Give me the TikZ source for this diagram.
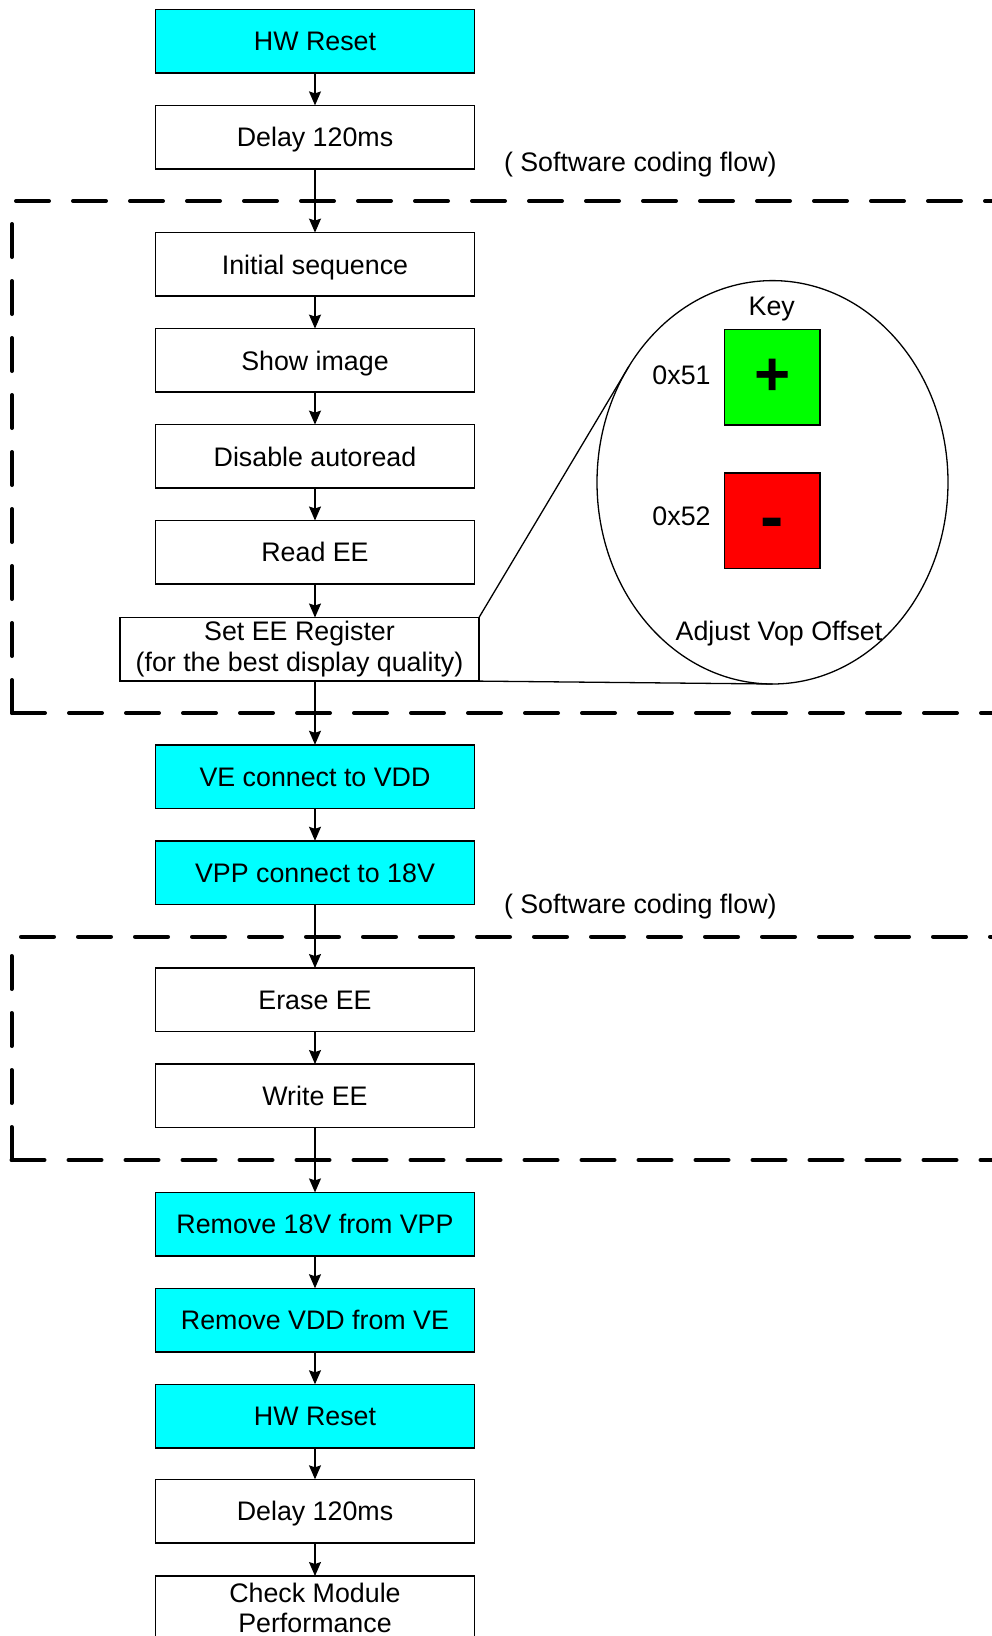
\documentclass[tikz,border=0pt]{standalone}
\usepackage{fontspec}
\setmainfont{Liberation Sans}
\usetikzlibrary{arrows.meta,shapes.geometric}
\definecolor{cyanbox}{RGB}{0,255,255}
\definecolor{keygreen}{RGB}{0,255,0}
\definecolor{keyred}{RGB}{255,0,0}
\begin{document}
\begin{tikzpicture}[x=1pt,y=-1pt,
  box/.style={draw=black, line width=1.5pt, minimum width=319.3pt, minimum height=63.6pt,
    inner sep=0pt, outer sep=0pt, font=\fontsize{26.8}{31}\selectfont,
    text height=19.2pt, text depth=0pt},
  hwbox/.style={box, fill=cyanbox},
  twoline/.style={draw=black, line width=1.5pt, minimum height=63.6pt,
    inner sep=0pt, outer sep=0pt, align=center},
  flow/.style={-{Stealth[length=14pt,width=12pt,inset=2pt]}, line width=1.3pt},
  region/.style={line width=4pt, dash pattern=on 33pt off 24pt, line cap=round},
  lbl/.style={font=\fontsize{26.8}{31}\selectfont, inner sep=0pt, outer sep=0pt},
  keysq/.style={draw=black, line width=1.3pt, minimum size=95.7pt, inner sep=0pt, outer sep=0pt},
  thinline/.style={line width=1.3pt}
]
\useasboundingbox (0,0) rectangle (991,1636);

% dashed regions
\draw[region] (16,201) -- (1000,201);
\draw[region] (12,713) -- (12,215);
\draw[region] (12,713) -- (1000,713);
\draw[region] (21,936.7) -- (1000,936.7);
\draw[region] (11.5,1160) -- (11.5,950);
\draw[region] (11.5,1160) -- (1000,1160);

% flow boxes
\node[hwbox] (hw1) at (315,41.2) {HW Reset};
\node[box] (d1) at (315,137.2) {Delay 120ms};
\node[box] (init) at (315,264.4) {Initial sequence};
\node[box] (show) at (315,360.4) {Show image};
\node[box] (dis) at (315,456.4) {Disable autoread};
\node[box] (read) at (315,552.3) {Read EE};
\node[twoline, minimum width=359pt, font=\fontsize{26.8}{31}\selectfont] (set) at (299.5,649.3)
  {Set EE Register\\(for the best display quality)};
\node[hwbox] (ve) at (315,776.6) {VE connect to VDD};
\node[hwbox] (vpp) at (315,872.6) {VPP connect to 18V};
\node[box] (erase) at (315,999.8) {Erase EE};
\node[box] (write) at (315,1095.8) {Write EE};
\node[hwbox] (rm18) at (315,1224.2) {Remove 18V from VPP};
\node[hwbox] (rmvdd) at (315,1320.1) {Remove VDD from VE};
\node[hwbox] (hw2) at (315,1416.1) {HW Reset};
\node[box] (d2) at (315,1511.1) {Delay 120ms};
\node[twoline, minimum width=319.3pt, font=\fontsize{26.8}{29.3}\selectfont] (chk) at (315,1607.8)
  {Check Module\\Performance};

% labels
\node[lbl, anchor=base west] (sw1) at (504,171.5) {( Software coding flow)};
\node[lbl, anchor=base west] (sw2) at (504,913.3) {( Software coding flow)};

% connectors
\draw[flow] (hw1) -- (d1);
\draw[flow] (d1) -- (init);
\draw[flow] (init) -- (show);
\draw[flow] (show) -- (dis);
\draw[flow] (dis) -- (read);
\draw[flow] (read.south) -- (read.south |- set.north);
\draw[flow] (ve.north |- set.south) -- (ve.north);
\draw[flow] (ve) -- (vpp);
\draw[flow] (vpp) -- (erase);
\draw[flow] (erase) -- (write);
\draw[flow] (write) -- (rm18);
\draw[flow] (rm18) -- (rmvdd);
\draw[flow] (rmvdd) -- (hw2);
\draw[flow] (hw2) -- (d2);
\draw[flow] (d2) -- (chk);

% key callout
\node[ellipse, draw=black, line width=1.3pt, minimum width=351pt, minimum height=403.4pt,
  inner sep=0pt, outer sep=0pt] (ell) at (772.5,482.3) {};
\draw[thinline] (set.north east) -- (ell.141.7);
\draw[thinline] (set.south east) -- (ell.south);

\node[keysq, fill=keygreen] (gk) at (772.2,377.2) {};
\node[keysq, fill=keyred] (rk) at (772.2,520.8) {};
\node[anchor=base, inner sep=0pt, font=\fontsize{62}{62}\selectfont\bfseries] (plus) at (772.2,395.6) {+};
\node[anchor=base, inner sep=0pt, font=\fontsize{70}{70}\selectfont\bfseries] (minus) at (772.2,540.5) {-};
\node[lbl, anchor=base] (key) at (771.8,315) {Key};
\node[lbl, anchor=base] (k51) at (681.5,384) {0x51};
\node[lbl, anchor=base] (k52) at (681.5,525) {0x52};
\node[lbl, anchor=base] (adj) at (779,640) {Adjust Vop Offset};
\end{tikzpicture}
\end{document}
